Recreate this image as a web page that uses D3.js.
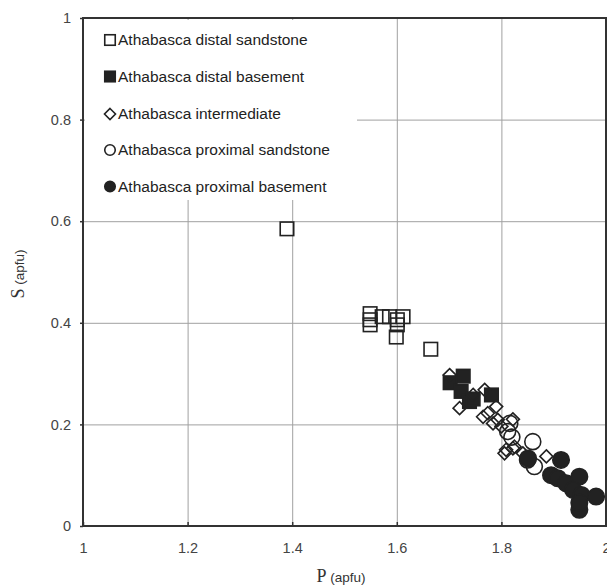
<!DOCTYPE html>
<html><head><meta charset="utf-8">
<script src="https://cdn.jsdelivr.net/npm/d3@7"></script>
<style>body{margin:0;background:#fff}svg{display:block}</style>
</head><body>
<svg id="chart" width="607" height="586"></svg>
<script>
// ---- data ----
const seriesNames = ["Athabasca distal sandstone","Athabasca distal basement","Athabasca intermediate","Athabasca proximal sandstone","Athabasca proximal basement"];
const distalSandstone = [[1.39,0.585],[1.549,0.418],[1.549,0.406],[1.549,0.396],[1.572,0.412],[1.586,0.412],[1.601,0.406],[1.612,0.412],[1.601,0.396],[1.599,0.372],[1.665,0.348]];
const distalBasement = [[1.702,0.282],[1.727,0.295],[1.723,0.265],[1.739,0.245],[1.746,0.25],[1.781,0.258]];
const intermediate = [[1.701,0.297],[1.72,0.232],[1.746,0.258],[1.768,0.268],[1.765,0.215],[1.774,0.222],[1.79,0.235],[1.784,0.202],[1.793,0.209],[1.8,0.196],[1.809,0.15],[1.825,0.156],[1.841,0.143],[1.806,0.143],[1.822,0.153],[1.886,0.137],[1.822,0.21]];
const proximalSandstone = [[1.816,0.202],[1.812,0.186],[1.82,0.175],[1.86,0.166],[1.863,0.117],[1.85,0.13]];
const proximalBasement = [[1.851,0.133],[1.914,0.13],[1.895,0.1],[1.908,0.094],[1.924,0.084],[1.949,0.097],[1.937,0.071],[1.953,0.061],[1.981,0.058],[1.949,0.032],[1.949,0.046]];
const xTicks = [1,1.2,1.4,1.6,1.8,2];
const yTicks = [0,0.2,0.4,0.6,0.8,1];

// ---- layout ----
const svg = d3.select("#chart");
const L = 83, R = 606, T = 18, B = 526;
const x = d3.scaleLinear().domain([1,2]).range([L,R]);
const y = d3.scaleLinear().domain([0,1]).range([B,T]);
const ink = "#222";
const sans = "Liberation Sans, Arial, sans-serif";

// grid
const grid = svg.append("g").attr("stroke","#a0a0a0").attr("stroke-width",1);
xTicks.slice(1,-1).forEach(t=>grid.append("line").attr("x1",x(t)+0.5).attr("x2",x(t)+0.5).attr("y1",T).attr("y2",B));
yTicks.slice(1,-1).forEach(t=>grid.append("line").attr("x1",L).attr("x2",R).attr("y1",y(t)+0.5).attr("y2",y(t)+0.5));

// legend box (white, covers grid)
svg.append("rect").attr("x",L+2).attr("y",T+2).attr("width",357-L-2).attr("height",200-T-2).attr("fill","#fff");

// axes
const xAxis = d3.axisBottom(x).tickValues(xTicks).tickSize(-4).tickPadding(17).tickFormat(d3.format("~g"));
const yAxis = d3.axisLeft(y).tickValues(yTicks).tickSize(3).tickPadding(9).tickFormat(d3.format("~g"));
const gx = svg.append("g").attr("transform",`translate(0,${B})`).call(xAxis);
const gy = svg.append("g").attr("transform",`translate(${L},0)`).call(yAxis);
[gx,gy].forEach(g=>{
  g.select(".domain").remove();
  g.selectAll(".tick line").attr("stroke","#333").attr("stroke-width",1.5);
  g.selectAll(".tick text").attr("fill","#444").attr("font-family",sans).attr("font-size",14.5);
});
// frame
svg.append("rect").attr("x",L).attr("y",T).attr("width",R-L).attr("height",B-T).attr("fill","none").attr("stroke","#333").attr("stroke-width",2);

// symbols
function marker(g, type, cx, cy, s){
  if(type==="sq"||type==="fsq"){
    g.append("rect").attr("x",cx-s/2).attr("y",cy-s/2).attr("width",s).attr("height",s)
     .attr("fill",type==="fsq"?ink:"#fff").attr("fill-opacity",type==="fsq"?1:0).attr("stroke",ink).attr("stroke-width",1.6);
  } else if(type==="dia"){
    const h=s/2;
    g.append("path").attr("d",`M${cx},${cy-h}L${cx+h},${cy}L${cx},${cy+h}L${cx-h},${cy}Z`)
     .attr("fill","#fff").attr("fill-opacity",0).attr("stroke",ink).attr("stroke-width",1.6);
  } else {
    g.append("circle").attr("cx",cx).attr("cy",cy).attr("r",s/2)
     .attr("fill",type==="fci"?ink:"#fff").attr("fill-opacity",type==="fci"?1:0).attr("stroke",ink).attr("stroke-width",1.6);
  }
}
const series = [
  {data:distalSandstone,type:"sq",size:13.5},
  {data:distalBasement,type:"fsq",size:13.5},
  {data:intermediate,type:"dia",size:13},
  {data:proximalSandstone,type:"ci",size:16},
  {data:proximalBasement,type:"fci",size:16.5}
];
const pts = svg.append("g");
series.forEach(s=>s.data.forEach(d=>marker(pts,s.type,x(d[0]),y(d[1]),s.size)));

// legend
const lg = svg.append("g").attr("font-family",sans).attr("font-size",15.5).attr("fill","#222");
const legY = [40,76.5,114,150,186.5];
series.forEach((s,i)=>{
  marker(lg,s.type,110,legY[i],s.type==="dia"?11:10.5);
  lg.append("text").attr("x",118).attr("y",legY[i]).attr("dy","0.35em").text(seriesNames[i]);
});

// axis titles
const xt = svg.append("text").attr("x",341).attr("y",582).attr("text-anchor","middle").attr("fill","#333");
xt.append("tspan").attr("font-family","Liberation Serif, Times New Roman, serif").attr("font-size",18).text("P");
xt.append("tspan").attr("font-family",sans).attr("font-size",13.5).text(" (apfu)");
const yt = svg.append("text").attr("transform","translate(24,274) rotate(-90)").attr("text-anchor","middle").attr("fill","#333");
yt.append("tspan").attr("font-family","Liberation Serif, Times New Roman, serif").attr("font-size",18).text("S");
yt.append("tspan").attr("font-family",sans).attr("font-size",13.5).text(" (apfu)");
</script>
</body></html>
